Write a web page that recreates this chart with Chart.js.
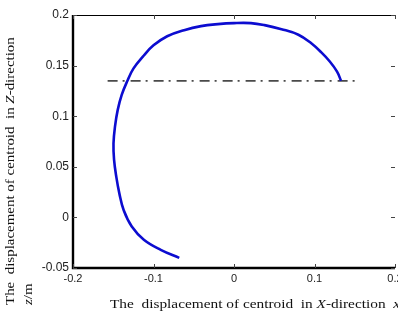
<!DOCTYPE html>
<html>
<head>
<meta charset="utf-8">
<script src="https://cdn.jsdelivr.net/npm/chart.js@4.4.0/dist/chart.umd.min.js"></script>
<style>
html,body{margin:0;padding:0;background:#fff;overflow:hidden;}
#wrap{width:398px;height:316px;position:relative;}
</style>
</head>
<body>
<div id="wrap"><canvas id="c" width="398" height="316"></canvas></div>
<script>
// Centroid trajectory (x in m, z in m)
const xValues = [-0.068,-0.091,-0.112,-0.127,-0.137,-0.1425,-0.1462,-0.1490,-0.1497,-0.1478,-0.1445,-0.1395,-0.133,-0.125,-0.112,-0.100,-0.083,-0.062,-0.041,-0.020,0.000,0.021,0.038,0.059,0.080,0.096,0.1085,0.119,0.128,0.133];
const zValues = [-0.040,-0.032,-0.022,-0.009,0.007,0.024,0.040,0.057,0.073,0.090,0.106,0.121,0.134,0.147,0.160,0.170,0.179,0.185,0.189,0.191,0.192,0.192,0.190,0.186,0.1805,0.172,0.163,0.154,0.144,0.135];
// Reference (dash-dot) level line
const refX = [-0.157, 0.157];
const refZ = [0.135, 0.135];
// Tick labels
const xTicks = [-0.2,-0.1,0,0.1,0.2];
const yTicks = [-0.05,0,0.05,0.1,0.15,0.2];
const xTickLabels = ['-0.2','-0.1','0','0.1','0.2'];
const yTickLabels = ['-0.05','0','0.05','0.1','0.15','0.2'];
const xTitleParts = [['The  displacement of centroid  in ',false],['X',true],['-direction  ',false],['x',true],['/m',false]];
const yTitleLine1 = [['The  displacement of centroid  in ',false],['Z',true],['-direction',false]];
const yTitleLine2 = [['z',true],['/m',false]];

const trajectory = xValues.map((x,i)=>({x:x,y:zValues[i]}));
const refLine = refX.map((x,i)=>({x:x,y:refZ[i]}));

const SERIF = '"Liberation Serif","DejaVu Serif",serif';
function drawParts(ctx, parts, x, y, size){
  let cx = x;
  for(const [t,it] of parts){
    ctx.font = (it?'italic ':'') + size + 'px ' + SERIF;
    ctx.fillText(t, cx, y);
    cx += ctx.measureText(t).width;
  }
}

const framePlugin = {
  id:'frame',
  afterDraw(chart){
    const ctx = chart.ctx, a = chart.chartArea;
    const xs = chart.scales.x, ys = chart.scales.y;
    ctx.save();
    // top border
    ctx.strokeStyle = '#000';
    ctx.lineWidth = 1.2;
    ctx.beginPath(); ctx.moveTo(a.left, a.top+0.5); ctx.lineTo(a.right, a.top+0.5); ctx.stroke();
    // left and bottom thick borders
    ctx.lineWidth = 2.4;
    ctx.beginPath(); ctx.moveTo(a.left, a.top); ctx.lineTo(a.left, a.bottom); ctx.lineTo(a.right, a.bottom); ctx.stroke();
    // inward ticks
    ctx.lineWidth = 1;
    ctx.strokeStyle = '#444';
    ctx.beginPath();
    for(const v of xTicks){
      const px = Math.round(xs.getPixelForValue(v))+0.5;
      ctx.moveTo(px, a.bottom); ctx.lineTo(px, a.bottom-4);
      ctx.moveTo(px, a.top); ctx.lineTo(px, a.top+4);
    }
    for(const v of yTicks){
      const py = Math.round(ys.getPixelForValue(v))+0.5;
      ctx.moveTo(a.left, py); ctx.lineTo(a.left+4, py);
      ctx.moveTo(a.right, py); ctx.lineTo(a.right-4, py);
    }
    ctx.stroke();
    // axis titles (text stretched along its direction like the reference)
    ctx.fillStyle = '#111';
    ctx.textBaseline = 'alphabetic';
    ctx.textAlign = 'left';
    ctx.save();
    ctx.translate(110, 308);
    ctx.scale(1.18, 1);
    drawParts(ctx, xTitleParts, 0, 0, 13);
    ctx.restore();
    ctx.save();
    ctx.translate(14, 305);
    ctx.rotate(-Math.PI/2);
    ctx.scale(1.15, 1);
    drawParts(ctx, yTitleLine1, 0, 0, 13);
    ctx.restore();
    ctx.save();
    ctx.translate(32, 305);
    ctx.rotate(-Math.PI/2);
    ctx.scale(1.15, 1);
    drawParts(ctx, yTitleLine2, 0, 0, 13);
    ctx.restore();
    ctx.restore();
  }
};

new Chart(document.getElementById('c'), {
  type:'scatter',
  data:{datasets:[
    {data:trajectory, showLine:true, borderColor:'#0c0cd0', borderWidth:2.6, pointRadius:0, tension:0.4, fill:false},
    {data:refLine, showLine:true, borderColor:'#4a4a4a', borderWidth:1.8, borderDash:[10,5,2,6], pointRadius:0, fill:false}
  ]},
  options:{
    responsive:false, animation:false, devicePixelRatio:1,
    layout:{padding:{left:0, top:15, right:3, bottom:0}},
    plugins:{legend:{display:false}, tooltip:{enabled:false}},
    scales:{
      x:{type:'linear', min:-0.2, max:0.2,
        afterBuildTicks(s){ s.ticks = xTicks.map(v=>({value:v})); },
        afterFit(s){ s.height = 48; s.paddingLeft = 0; s.paddingRight = 0; },
        grid:{display:false, drawTicks:false}, border:{display:false},
        ticks:{autoSkip:false, maxRotation:0, padding:4, color:'#222',
          font:{family:'"Liberation Sans",Arial,sans-serif', size:11},
          callback:(v,i)=>xTickLabels[i]}
      },
      y:{type:'linear', min:-0.05, max:0.2,
        afterBuildTicks(s){ s.ticks = yTicks.map(v=>({value:v})); },
        afterFit(s){ s.width = 73; s.paddingTop = 0; s.paddingBottom = 0; },
        grid:{display:false, drawTicks:false}, border:{display:false},
        ticks:{autoSkip:false, padding:4, color:'#222',
          font:{family:'"Liberation Sans",Arial,sans-serif', size:12},
          callback:(v,i)=>yTickLabels[i]}
      }
    }
  },
  plugins:[framePlugin]
});
</script>
</body>
</html>
